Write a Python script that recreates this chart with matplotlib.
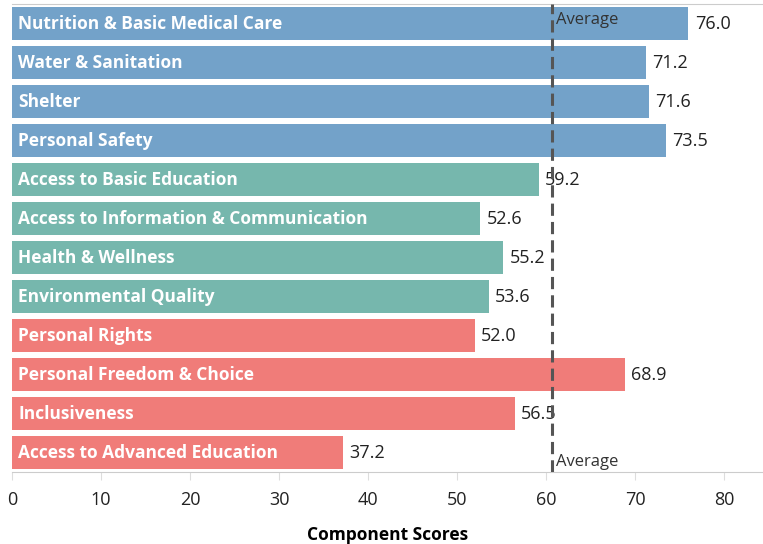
import numpy as np
import matplotlib.pyplot as plt

categories = [
    "Nutrition & Basic Medical Care",
    "Water & Sanitation",
    "Shelter",
    "Personal Safety",
    "Access to Basic Education",
    "Access to Information & Communication",
    "Health & Wellness",
    "Environmental Quality",
    "Personal Rights",
    "Personal Freedom & Choice",
    "Inclusiveness",
    "Access to Advanced Education",
]
scores = [76.0, 71.2, 71.6, 73.5, 59.2, 52.6, 55.2, 53.6, 52.0, 68.9, 56.5, 37.2]
groups = ["basic"] * 4 + ["wellbeing"] * 4 + ["opportunity"] * 4
group_colors = {"basic": "#73a2c9", "wellbeing": "#76b7ad", "opportunity": "#f07c79"}
xticks = [0, 10, 20, 30, 40, 50, 60, 70, 80]

plt.rcParams['font.family'] = ['Open Sans', 'DejaVu Sans']

fig = plt.figure(figsize=(7.63, 5.44), dpi=100)
ax = fig.add_axes([12 / 763, 1 - 472 / 544, 751 / 763, 468 / 544])

y = np.arange(len(categories))
colors = [group_colors[g] for g in groups]
ax.barh(y, scores, height=0.85, color=colors, zorder=2)

for yi, (cat, val) in enumerate(zip(categories, scores)):
    ax.text(0.7, yi, cat, color="white", fontweight="bold", fontsize=12.5,
            va="center", ha="left", zorder=3)
    ax.text(val + 0.7, yi, f"{val:.1f}", color="#222222", fontsize=13,
            va="center", ha="left", zorder=3)

avg = np.mean(scores)
ax.axvline(avg, color="#555555", linestyle=(0, (4, 2)), linewidth=2.2, zorder=4)
ax.text(avg + 0.5, -0.1, "Average", color="#333333", fontsize=12,
        va="center", ha="left", zorder=4)
ax.text(avg + 0.5, 11.25, "Average", color="#333333", fontsize=12,
        va="center", ha="left", zorder=4)

ax.set_xlim(0, 751 / 89 * 10)
ax.set_ylim(11.5, -0.5)
ax.set_yticks([])
ax.set_xticks(xticks)
ax.set_xticklabels([str(t) for t in xticks], fontsize=13, color="#222222")
ax.tick_params(axis="x", length=6, color="#dddddd", pad=8)
ax.set_xlabel("Component Scores", fontsize=12.5, fontweight="bold", labelpad=12)

for side in ["left", "right"]:
    ax.spines[side].set_visible(False)
ax.spines["bottom"].set_color("#cccccc")
ax.spines["top"].set_color("#cccccc")

plt.savefig("out.png", dpi=100)
